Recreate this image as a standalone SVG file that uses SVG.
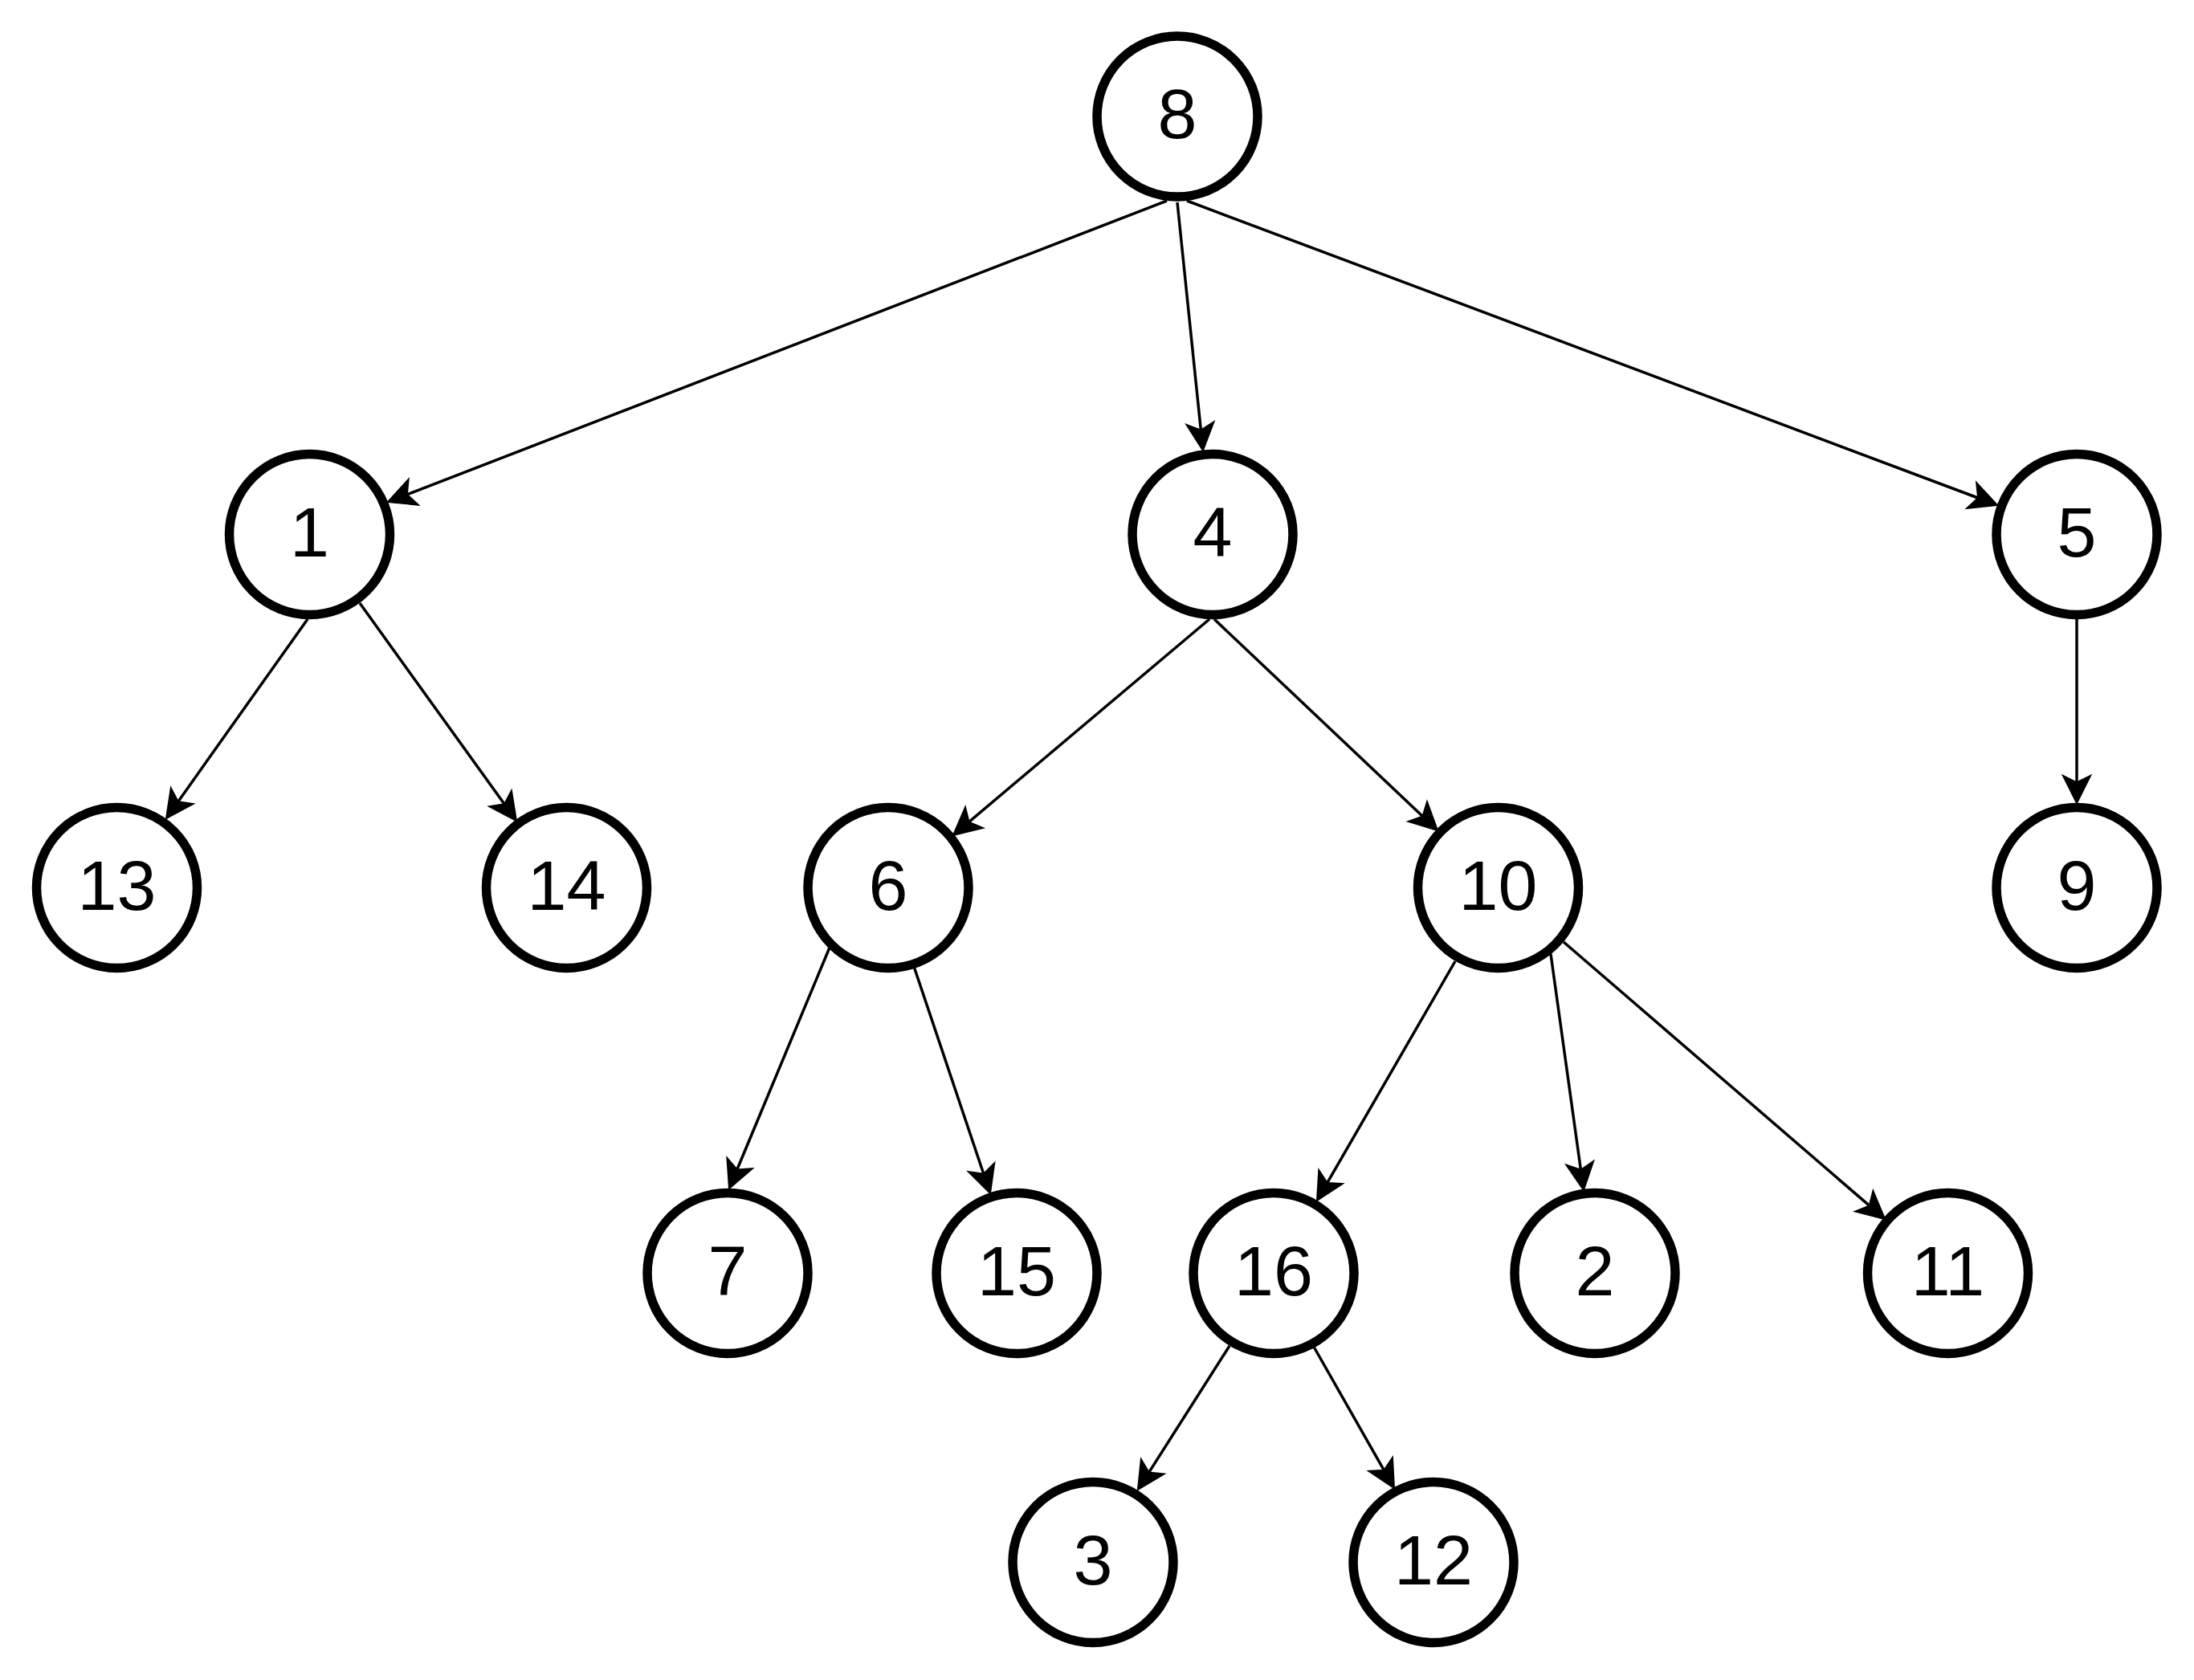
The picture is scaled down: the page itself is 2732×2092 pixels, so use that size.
<svg xmlns="http://www.w3.org/2000/svg" width="2732" height="2092" viewBox="0 0 2732 2092">
<style>
.n circle{fill:#fff;stroke:#000;stroke-width:11.5}
.n text{font-family:"Liberation Sans",Arial,sans-serif;font-size:88px;fill:#000;text-anchor:middle}
.e line{stroke:#000;stroke-width:3.5;fill:none;marker-end:url(#arr)}
</style>
<defs>
<marker id="arr" markerUnits="userSpaceOnUse" markerWidth="80" markerHeight="80" refX="0" refY="0" orient="auto" overflow="visible" viewBox="-40 -40 80 80">
<path d="M20,0 L-14,-17 L-5.5,0 L-14,17 Z" fill="#000" stroke="#000" stroke-width="2" stroke-linejoin="miter"/>
</marker>
</defs>
<rect width="2732" height="2092" fill="#fff"/>
<g id="connectors" class="e">
<line x1="1453" y1="250" x2="501.7" y2="617.8"/>
<line x1="1466" y1="252" x2="1495.9" y2="541.1"/>
<line x1="1478" y1="250" x2="2468.3" y2="622"/>
<line x1="2586" y1="771" x2="2586" y2="980"/>
<line x1="383" y1="771" x2="218.6" y2="1002.7"/>
<line x1="448" y1="751" x2="631.3" y2="1005.8"/>
<line x1="1506" y1="771" x2="1202.3" y2="1027.1"/>
<line x1="1512" y1="771" x2="1775.5" y2="1020.3"/>
<line x1="1033" y1="1180" x2="915.7" y2="1461.5"/>
<line x1="1138.5" y1="1205" x2="1226.6" y2="1467"/>
<line x1="1812" y1="1197" x2="1650" y2="1477.7"/>
<line x1="1931" y1="1188" x2="1969.2" y2="1462.2"/>
<line x1="1947" y1="1173" x2="2331.9" y2="1504.9"/>
<line x1="1531" y1="1676" x2="1427.7" y2="1838.1"/>
<line x1="1636.5" y1="1678" x2="1726.1" y2="1835.6"/>
</g>
<g id="node-8" class="n"><circle cx="1466" cy="145" r="100"/><text x="1466" y="172">8</text></g>
<g id="node-1" class="n"><circle cx="385.5" cy="665.5" r="100"/><text x="385.5" y="692.5">1</text></g>
<g id="node-4" class="n"><circle cx="1510" cy="665.5" r="100"/><text x="1510" y="692.5">4</text></g>
<g id="node-5" class="n"><circle cx="2586" cy="665.5" r="100"/><text x="2586" y="692.5">5</text></g>
<g id="node-13" class="n"><circle cx="145.5" cy="1105.5" r="100"/><text x="145.5" y="1132.5">13</text></g>
<g id="node-14" class="n"><circle cx="705.5" cy="1105.5" r="100"/><text x="705.5" y="1132.5">14</text></g>
<g id="node-6" class="n"><circle cx="1106" cy="1105.5" r="100"/><text x="1106" y="1132.5">6</text></g>
<g id="node-10" class="n"><circle cx="1865.5" cy="1105.5" r="100"/><text x="1865.5" y="1132.5">10</text></g>
<g id="node-9" class="n"><circle cx="2586" cy="1105.5" r="100"/><text x="2586" y="1132.5">9</text></g>
<g id="node-7" class="n"><circle cx="906" cy="1585.5" r="100"/><text x="906" y="1612.5">7</text></g>
<g id="node-15" class="n"><circle cx="1266" cy="1585.5" r="100"/><text x="1266" y="1612.5">15</text></g>
<g id="node-16" class="n"><circle cx="1586" cy="1585.5" r="100"/><text x="1586" y="1612.5">16</text></g>
<g id="node-2" class="n"><circle cx="1986" cy="1585.5" r="100"/><text x="1986" y="1612.5">2</text></g>
<g id="node-11" class="n"><circle cx="2425.5" cy="1585.5" r="100"/><text x="2425.5" y="1612.5">11</text></g>
<g id="node-3" class="n"><circle cx="1361" cy="1945.5" r="100"/><text x="1361" y="1972.5">3</text></g>
<g id="node-12" class="n"><circle cx="1785" cy="1945.5" r="100"/><text x="1785" y="1972.5">12</text></g>
</svg>
